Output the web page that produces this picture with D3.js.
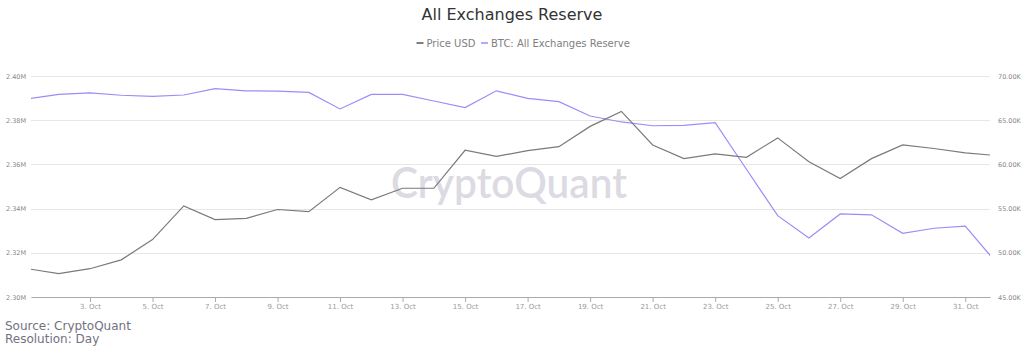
<!DOCTYPE html>
<html><head><meta charset="utf-8">
<script src="https://cdn.jsdelivr.net/npm/d3@7"></script>
<style>body{margin:0;background:#fff;}svg{display:block;font-family:"DejaVu Sans",sans-serif;}</style>
</head><body><svg id="c" width="1024" height="355"></svg>
<script>
const dates = ["2021-10-01","2021-10-02","2021-10-03","2021-10-04","2021-10-05","2021-10-06","2021-10-07","2021-10-08","2021-10-09","2021-10-10","2021-10-11","2021-10-12","2021-10-13","2021-10-14","2021-10-15","2021-10-16","2021-10-17","2021-10-18","2021-10-19","2021-10-20","2021-10-21","2021-10-22","2021-10-23","2021-10-24","2021-10-25","2021-10-26","2021-10-27","2021-10-28","2021-10-29","2021-10-30","2021-10-31","2021-11-01"];
const priceUSD = [48200,47650,48200,49200,51500,55300,53750,53900,54900,54650,57400,56000,57300,57300,61600,60900,61550,62000,64300,66000,62200,60650,61200,60800,63000,60300,58400,60650,62200,61800,61300,61000];
const reserveBTC = [2389600,2391700,2392400,2391300,2390800,2391400,2394300,2393300,2393200,2392600,2385100,2391700,2391700,2388700,2385700,2393300,2389900,2388400,2381900,2379200,2377500,2377700,2378900,2357800,2336800,2326700,2337600,2337200,2328800,2331100,2332100,2315400];
const leftTicks = [2300000,2320000,2340000,2360000,2380000,2400000];
const rightTicks = [45000,50000,55000,60000,65000,70000];
const xTickDays = [3,5,7,9,11,13,15,17,19,21,23,25,27,29,31];
const seriesNames = ["Price USD","BTC: All Exchanges Reserve"];
const colors = ["#7a7a7a","#9d8cf7"];

const svg = d3.select("#c");
const L = 31, R = 990, T = 76, B = 297;
const parse = d3.utcParse("%Y-%m-%d");
const xs = d3.scaleUtc()
  .domain([new Date(Date.UTC(2021,9,1,2,43)), new Date(Date.UTC(2021,9,31,19,0))])
  .range([L, R]);
const yL = d3.scaleLinear().domain([2300000,2400000]).range([B,T]);
const yR = d3.scaleLinear().domain([45000,70000]).range([B,T]);

// title
svg.append("text").attr("x",512).attr("y",20).attr("text-anchor","middle")
  .attr("font-size",16).attr("fill","#333").text("All Exchanges Reserve");

// legend
const leg = [{x:416.5,name:seriesNames[0],c:"#555"},{x:481,name:seriesNames[1],c:colors[1]}];
leg.forEach(l=>{
  svg.append("line").attr("x1",l.x).attr("x2",l.x+7).attr("y1",43).attr("y2",43)
    .attr("stroke",l.c).attr("stroke-width",1.5);
  svg.append("text").attr("x",l.x+10).attr("y",46.5).attr("font-size",10).attr("fill","#808080").text(l.name);
});

// gridlines
svg.append("g").selectAll("line").data(leftTicks).join("line")
  .attr("x1",L).attr("x2",R).attr("y1",d=>Math.round(yL(d))+0.5).attr("y2",d=>Math.round(yL(d))+0.5)
  .attr("stroke","#e6e6e6").attr("stroke-width",1);

// watermark
svg.append("text").attr("x",509).attr("y",198).attr("text-anchor","middle")
  .attr("font-family","Lato, 'Open Sans', sans-serif").attr("font-size",42).attr("font-weight",600)
  .attr("fill","#dcdae3").attr("textLength",236).attr("lengthAdjust","spacingAndGlyphs").text("CryptoQuant");

// left axis labels
svg.append("g").selectAll("text").data(leftTicks).join("text")
  .attr("x",6).attr("y",d=>yL(d)+2.5).attr("font-size",6.5).attr("fill","#888")
  .text(d=>(d/1e6).toFixed(2)+"M");
// right axis labels
svg.append("g").selectAll("text").data(rightTicks).join("text")
  .attr("x",998).attr("y",d=>yR(d)+2.5).attr("font-size",6.5).attr("fill","#888")
  .text(d=>(d/1000).toFixed(2)+"K");

// x axis
const xAxis = d3.axisBottom(xs)
  .tickValues(xTickDays.map(d=>new Date(Date.UTC(2021,9,d))))
  .tickFormat(d=>d.getUTCDate()+". Oct").tickSize(5).tickSizeOuter(0);
const gx = svg.append("g").attr("transform",`translate(0,${B})`).call(xAxis);
gx.select(".domain").attr("stroke","#aaaaaa").attr("stroke-width",1.2);
gx.selectAll(".tick line").attr("stroke","#aaaaaa");
gx.selectAll(".tick text").attr("font-size",7).attr("fill","#999").attr("font-family","DejaVu Sans, sans-serif").attr("dy","0.6em");

// clip
svg.append("clipPath").attr("id","clip").append("rect").attr("x",L).attr("y",0).attr("width",R-L).attr("height",B);
const lp = d3.line().x((d,i)=>xs(parse(dates[i]))).y(d=>yR(d));
const lr = d3.line().x((d,i)=>xs(parse(dates[i]))).y(d=>yL(d));
svg.append("path").datum(reserveBTC).attr("d",lr).attr("fill","none").attr("stroke",colors[1])
  .attr("stroke-width",1.2).attr("clip-path","url(#clip)");
svg.append("path").datum(priceUSD).attr("d",lp).attr("fill","none").attr("stroke",colors[0])
  .attr("stroke-width",1.2).attr("clip-path","url(#clip)");

// source
svg.append("text").attr("x",5).attr("y",330).attr("font-size",12).attr("fill","#72727f").text("Source: CryptoQuant");
svg.append("text").attr("x",5).attr("y",343).attr("font-size",12).attr("fill","#72727f").text("Resolution: Day");
</script></body></html>
